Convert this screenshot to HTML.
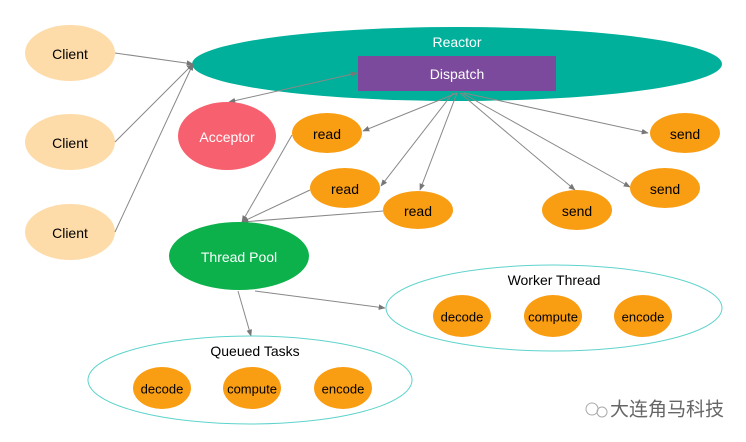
<!DOCTYPE html>
<html><head><meta charset="utf-8"><style>
html,body{margin:0;padding:0;background:#fff;}
svg{display:block;}
text{font-family:"Liberation Sans","Noto Sans CJK SC",sans-serif;font-size:14px;text-anchor:middle;dominant-baseline:central;}
.s{font-size:13px;}
</style></head><body>
<svg width="746" height="442" viewBox="0 0 746 442" xmlns="http://www.w3.org/2000/svg">
<defs>
<marker id="a" viewBox="0 0 10 10" refX="9" refY="5" markerWidth="7" markerHeight="7" orient="auto-start-reverse">
<path d="M0,1 L10,5 L0,9 z" fill="#777"/></marker>
</defs>
<ellipse cx="457" cy="64" rx="265" ry="37" fill="#00b09b"/>
<text x="457" y="42" fill="#fff">Reactor</text>
<rect x="358" y="56" width="198" height="35" fill="#7b4a9c"/>
<text x="457" y="74" fill="#fff">Dispatch</text>
<g fill="#fddcaa">
<ellipse cx="70" cy="53" rx="45" ry="28"/>
<ellipse cx="70" cy="142" rx="45" ry="28"/>
<ellipse cx="70" cy="232" rx="45" ry="28"/>
</g>
<text x="70" y="54">Client</text><text x="70" y="143">Client</text><text x="70" y="233">Client</text>
<g stroke="#888" stroke-width="1" fill="none" marker-end="url(#a)">
<line x1="115" y1="53" x2="193" y2="64"/>
<line x1="115" y1="142" x2="193" y2="64"/>
<line x1="115" y1="232" x2="193" y2="64"/>
<line x1="357" y1="73" x2="229" y2="102" marker-start="url(#a)"/>
<line x1="457" y1="93" x2="363" y2="131"/>
<line x1="453" y1="93" x2="381" y2="186"/>
<line x1="457" y1="93" x2="420" y2="190"/>
<line x1="460" y1="93" x2="575" y2="190"/>
<line x1="462" y1="93" x2="630" y2="187"/>
<line x1="464" y1="93" x2="648" y2="133"/>
<line x1="292" y1="135" x2="242" y2="222"/>
<line x1="310" y1="190" x2="242" y2="222"/>
<line x1="383" y1="211" x2="242" y2="222"/>
<line x1="238" y1="291" x2="251" y2="336"/>
<line x1="255" y1="291" x2="385" y2="308"/>
</g>
<ellipse cx="227" cy="136" rx="49" ry="34" fill="#f7606e"/>
<text x="227" y="137" fill="#fff">Acceptor</text>
<g fill="#f99d13">
<ellipse cx="327" cy="133" rx="35" ry="20"/>
<ellipse cx="345" cy="188" rx="35" ry="20"/>
<ellipse cx="418" cy="210" rx="35" ry="19"/>
<ellipse cx="577" cy="210" rx="35" ry="20"/>
<ellipse cx="665" cy="188" rx="35" ry="20"/>
<ellipse cx="685" cy="133" rx="35" ry="20"/>
</g>
<text x="327" y="134">read</text><text x="345" y="189">read</text><text x="418" y="211">read</text>
<text x="577" y="211">send</text><text x="665" y="189">send</text><text x="685" y="134">send</text>
<ellipse cx="239" cy="256" rx="70" ry="34" fill="#0db14b"/>
<text x="239" y="257" fill="#fff">Thread Pool</text>
<ellipse cx="554" cy="308" rx="168" ry="43" fill="none" stroke="#5fd3cc" stroke-width="1"/>
<text x="554" y="280">Worker Thread</text>
<g fill="#f99d13">
<ellipse cx="462" cy="316" rx="29" ry="21"/>
<ellipse cx="553" cy="316" rx="29" ry="21"/>
<ellipse cx="643" cy="316" rx="29" ry="21"/>
<ellipse cx="162" cy="388" rx="29" ry="21"/>
<ellipse cx="252" cy="388" rx="29" ry="21"/>
<ellipse cx="343" cy="388" rx="29" ry="21"/>
</g>
<text class="s" x="462" y="317">decode</text><text class="s" x="553" y="317">compute</text><text class="s" x="643" y="317">encode</text>
<ellipse cx="250" cy="380" rx="162" ry="44" fill="none" stroke="#5fd3cc" stroke-width="1"/>
<text x="255" y="351">Queued Tasks</text>
<text class="s" x="162" y="389">decode</text><text class="s" x="252" y="389">compute</text><text class="s" x="343" y="389">encode</text>
<circle cx="592" cy="409" r="6" fill="none" stroke="#aaa"/>
<circle cx="602" cy="412" r="5" fill="none" stroke="#aaa"/>
<text x="667" y="410" fill="#666" style="font-size:19px">大连角马科技</text>
</svg>
</body></html>
